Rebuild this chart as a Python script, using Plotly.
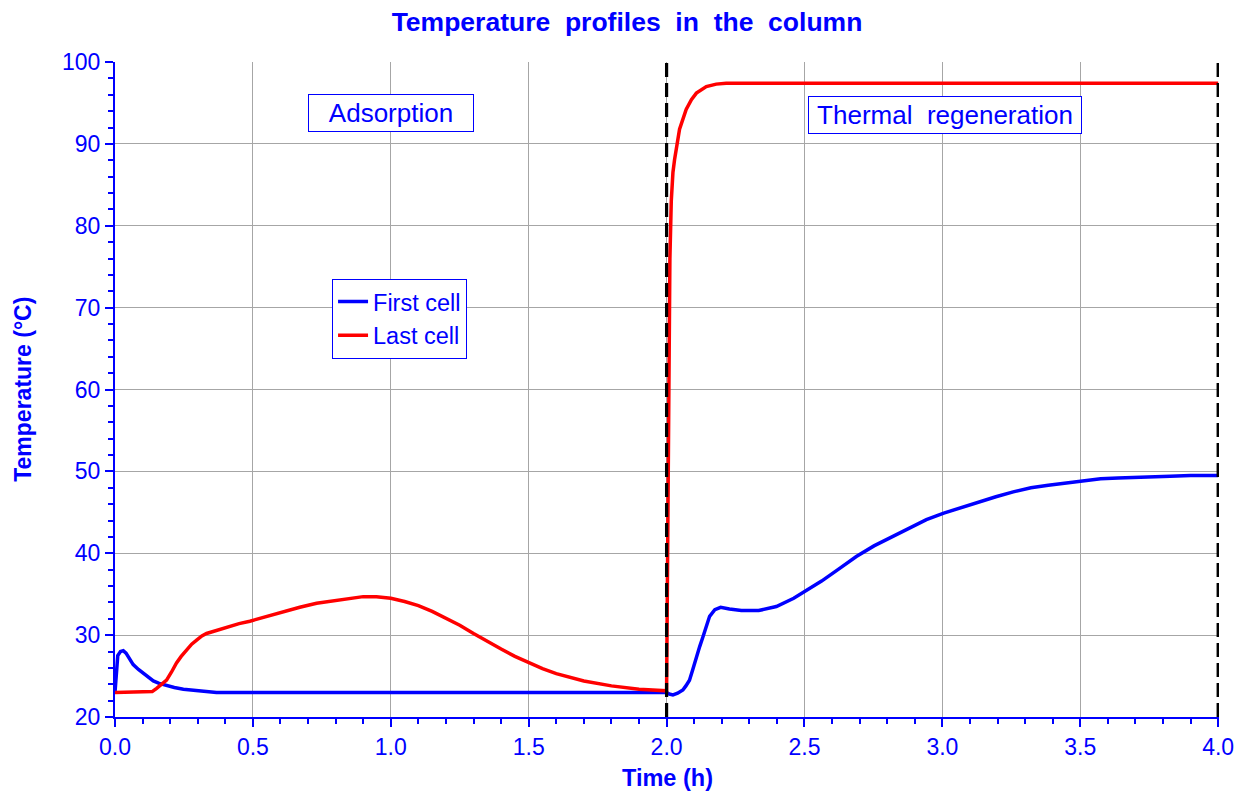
import plotly.graph_objects as go

# ---------------- data ----------------
time_first = [0.0, 0.005, 0.01, 0.02, 0.03, 0.04, 0.05, 0.066, 0.085, 0.103, 0.12, 0.139, 0.16,
              0.187, 0.215, 0.248, 0.28, 0.308, 0.34, 0.368, 0.5, 1.0, 1.5, 1.9, 2.0, 2.01,
              2.023, 2.04, 2.059, 2.07, 2.083, 2.095, 2.108, 2.12, 2.132, 2.145, 2.156, 2.175,
              2.196, 2.228, 2.271, 2.334, 2.398, 2.461, 2.5, 2.562, 2.625, 2.688, 2.752, 2.815,
              2.878, 2.942, 3.005, 3.068, 3.131, 3.194, 3.257, 3.321, 3.384, 3.447, 3.511,
              3.574, 3.637, 3.7, 3.764, 3.826, 3.9, 4.0]
temp_first = [23.0, 25.0, 27.5, 28.0, 28.1, 27.8, 27.2, 26.4, 25.8, 25.3, 24.8, 24.4, 24.1,
              23.8, 23.6, 23.4, 23.3, 23.2, 23.1, 23.0, 23.0, 23.0, 23.0, 23.0, 23.0, 22.8,
              22.7, 22.9, 23.3, 23.8, 24.5, 25.8, 27.4, 28.6, 29.8, 31.2, 32.3, 33.1,
              33.4, 33.2, 33.0, 33.0, 33.5, 34.5, 35.3, 36.6, 38.1, 39.6, 40.9, 42.0,
              43.1, 44.1, 44.9, 45.6, 46.3, 46.9, 47.5, 48.0, 48.3, 48.6, 48.9,
              49.1, 49.2, 49.3, 49.4, 49.4, 49.5, 49.5]

time_last = [0.0, 0.115, 0.135, 0.151, 0.17, 0.187, 0.205, 0.223, 0.24, 0.26, 0.278, 0.296,
             0.315, 0.332, 0.37, 0.405, 0.45, 0.489, 0.55, 0.61, 0.67, 0.731, 0.79, 0.851,
             0.9, 0.948, 1.0, 1.05, 1.1, 1.15, 1.2, 1.25, 1.3, 1.35, 1.4, 1.45, 1.5, 1.55,
             1.6, 1.65, 1.7, 1.8, 1.9, 2.0, 2.004, 2.008, 2.012, 2.017, 2.023, 2.029, 2.047,
             2.071, 2.09, 2.108, 2.144, 2.18, 2.216, 2.5, 3.0, 3.5, 4.0]
temp_last = [23.0, 23.0, 23.1, 23.5, 24.0, 24.5, 25.5, 26.6, 27.4, 28.2, 28.9, 29.4,
             29.9, 30.2, 30.6, 31.0, 31.4, 31.7, 32.3, 32.9, 33.4, 33.9, 34.2, 34.5,
             34.7, 34.7, 34.5, 34.1, 33.6, 32.9, 32.1, 31.2, 30.2, 29.2, 28.3, 27.4, 26.6, 25.9,
             25.3, 24.8, 24.4, 23.8, 23.4, 23.2, 40.0, 62.0, 76.0, 83.0, 86.5, 88.1, 91.8,
             94.2, 95.4, 96.2, 97.0, 97.3, 97.4, 97.4, 97.4, 97.4, 97.4]

phase_bounds = [2.0, 4.0]
series_names = ["First cell", "Last cell"]
phase_labels = ["Adsorption", "Thermal  regeneration"]
phase_label_x = [1.0, 3.01]
phase_label_y = [93.8, 93.5]

x_range = [0.0, 4.003]
y_range = [20, 100]
x_ticks = [0.0, 0.5, 1.0, 1.5, 2.0, 2.5, 3.0, 3.5, 4.0]
y_ticks = [20, 30, 40, 50, 60, 70, 80, 90, 100]

BLUE = "#0000ff"
RED = "#ff0000"
FONT = "Liberation Sans, Arial, sans-serif"

fig = go.Figure()

fig.add_trace(go.Scatter(x=time_first, y=temp_first, mode="lines", name=series_names[0],
                         line=dict(color=BLUE, width=3.5)))
fig.add_trace(go.Scatter(x=time_last, y=temp_last, mode="lines", name=series_names[1],
                         line=dict(color=RED, width=3.5)))

for xb in phase_bounds:
    fig.add_trace(go.Scatter(x=[xb, xb], y=y_range, mode="lines", showlegend=False,
                             hoverinfo="skip",
                             line=dict(color="black", width=3.2, dash="14px,6px")))

axis_common = dict(
    showline=True, linecolor=BLUE, linewidth=2,
    showgrid=True, gridcolor="#a6a6a6", gridwidth=1,
    ticks="outside", ticklen=8, tickwidth=1.5, tickcolor=BLUE,
    tickfont=dict(family=FONT, size=23, color=BLUE),
    zeroline=False, automargin=False,
)

fig.update_xaxes(range=x_range, tickvals=x_ticks, ticktext=[f"{v:.1f}" for v in x_ticks],
                 minor=dict(dtick=0.1, tick0=0, ticks="outside", ticklen=5, tickwidth=1.5,
                            tickcolor=BLUE, showgrid=False),
                 **axis_common)
fig.update_yaxes(range=y_range, tickvals=y_ticks,
                 minor=dict(dtick=2, tick0=20, ticks="outside", ticklen=5, tickwidth=1.5,
                            tickcolor=BLUE, showgrid=False),
                 **axis_common)

annotations = []
for txt, ax, ay, w in zip(phase_labels, phase_label_x, phase_label_y, [162, 270]):
    annotations.append(dict(x=ax, y=ay, xref="x", yref="y", text=txt, showarrow=False,
                            font=dict(family=FONT, size=26, color=BLUE),
                            bordercolor=BLUE, borderwidth=1, borderpad=1,
                            width=w, height=34, bgcolor="white"))
annotations.append(dict(x=-0.084, y=0.5, xref="paper", yref="paper", text="Temperature (°C)",
                        textangle=-90, showarrow=False, xanchor="center", yanchor="middle",
                        font=dict(family=FONT, size=23, color=BLUE, weight="bold")))
annotations.append(dict(x=0.5, y=-0.093, xref="paper", yref="paper", text="Time (h)",
                        showarrow=False, xanchor="center", yanchor="middle",
                        font=dict(family=FONT, size=23.5, color=BLUE, weight="bold")))

fig.update_layout(
    width=1247, height=794,
    margin=dict(l=115, r=28, t=62, b=77, autoexpand=False),
    paper_bgcolor="white", plot_bgcolor="white",
    title=dict(text="Temperature  profiles  in  the  column", x=627 / 1247,
               xref="container", xanchor="center", y=1 - 22 / 794, yref="container",
               yanchor="middle",
               font=dict(family=FONT, size=26.5, color=BLUE, weight="bold")),
    legend=dict(x=0.1966, y=0.669, xanchor="left", yanchor="top",
                bordercolor=BLUE, borderwidth=1, bgcolor="white",
                font=dict(family=FONT, size=23.5, color=BLUE),
                itemwidth=30, tracegroupgap=0),
    annotations=annotations,
    showlegend=True,
)

# remove the default page margin so the figure sits at the window's top-left corner
fig.write_html("out.html",
               config={"displayModeBar": False},
               post_script="document.body.style.margin='0';document.body.style.overflow='hidden';")
